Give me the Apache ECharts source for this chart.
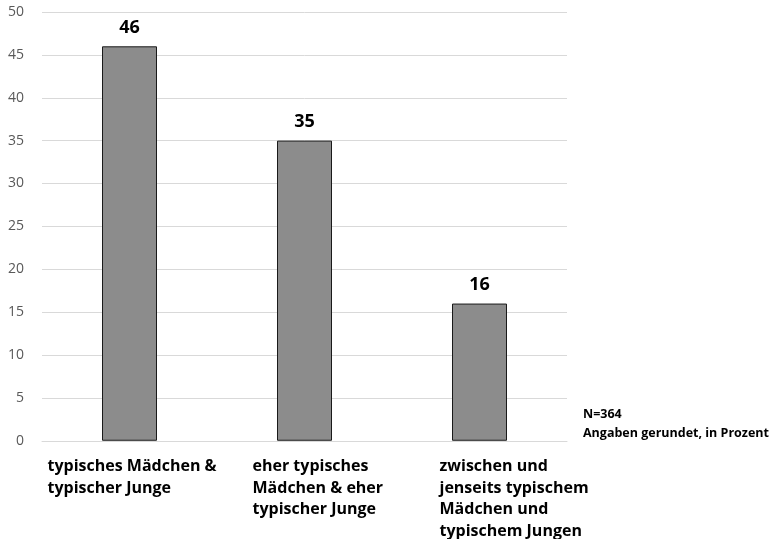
<!DOCTYPE html>
<html>
<head>
<meta charset="utf-8">
<script src="https://cdn.jsdelivr.net/npm/echarts@6/dist/echarts.min.js"></script>
<style>
  html, body { margin: 0; padding: 0; background: #ffffff; }
  #chart { width: 775px; height: 539px; }
</style>
</head>
<body>
<div id="chart"></div>
<script>
// Kategorien (mehrzeilig) und Anteile in Prozent
const categories = [
  ['typisches Mädchen &', 'typischer Junge'],
  ['eher typisches', 'Mädchen & eher', 'typischer Junge'],
  ['zwischen und', 'jenseits typischem', 'Mädchen und', 'typischem Jungen']
];
const values = [46, 35, 16];
const yTicks = { min: 0, max: 50, interval: 5 };
const noteLines = ['N=364', 'Angaben gerundet, in Prozent'];

const FONT = '"Open Sans", "Noto Sans", sans-serif';

// Links ausgerichtete Kategorie-Beschriftungen, je Kategorie eigener Einzug
const labelIndent = [36, 96, 120];
const rich = {};
labelIndent.forEach((p, i) => {
  rich['c' + i] = {
    width: 200,
    align: 'left',
    padding: [0, 0, 0, p],
    fontFamily: FONT,
    fontSize: 16,
    fontWeight: 'bold',
    color: '#000000',
    lineHeight: 21.5
  };
});

const chart = echarts.init(document.getElementById('chart'), null, { renderer: 'canvas' });

chart.setOption({
  animation: false,
  backgroundColor: '#ffffff',
  grid: { left: 42, right: 208, top: 12, bottom: 98, containLabel: false },
  xAxis: {
    type: 'category',
    data: categories.map((lines, i) => ({ value: String(i) })),
    axisLine: { show: true, lineStyle: { color: '#d9d9d9', width: 1 } },
    axisTick: { show: false },
    axisLabel: {
      interval: 0,
      margin: 15,
      verticalAlign: 'top',
      formatter: (val, idx) => categories[idx].map(l => '{c' + idx + '|' + l + '}').join('\n'),
      rich: rich
    }
  },
  yAxis: {
    type: 'value',
    min: yTicks.min,
    max: yTicks.max,
    interval: yTicks.interval,
    axisLine: { show: false },
    axisTick: { show: false },
    splitLine: { lineStyle: { color: '#d9d9d9', width: 1 } },
    axisLabel: {
      margin: 18,
      fontFamily: FONT,
      fontSize: 14,
      color: '#595959'
    }
  },
  series: [{
    type: 'bar',
    data: values,
    barWidth: 55,
    itemStyle: { color: '#8c8c8c', borderColor: '#1a1a1a', borderWidth: 1 },
    label: {
      show: true,
      position: 'top',
      distance: 9.5,
      fontFamily: FONT,
      fontSize: 18,
      fontWeight: 'bold',
      color: '#000000'
    }
  }],
  graphic: [{
    type: 'text',
    left: 583,
    top: 405,
    style: {
      text: noteLines.join('\n'),
      fontFamily: FONT,
      fontSize: 12.5,
      fontWeight: 'bold',
      lineHeight: 19,
      fill: '#000000'
    }
  }]
});
</script>
</body>
</html>
